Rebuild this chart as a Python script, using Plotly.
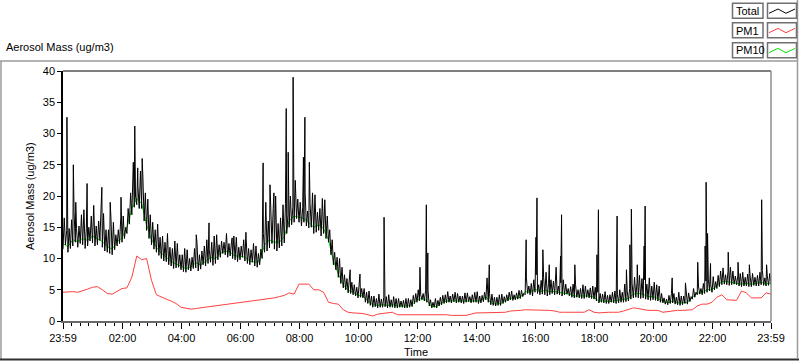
import plotly.graph_objects as go

# ---------------- data (minutes after 23:59) ----------------
# Total: envelope readings. lo_a at 10k, hi_a at 10k+2.5, lo_b at 10k+5, hi_b at 10k+7.5
total_lo_a = [11.5, 11.0, 12.0, 11.8, 12.2, 12.0, 12.5, 12.2, 11.8, 11.0,
              10.6, 12.0, 12.6, 14.0, 17.0, 18.6, 18.0, 14.5, 12.2, 11.0,
              10.0, 9.5, 8.8, 8.5, 8.2, 7.8, 8.0, 8.5, 8.3, 8.8,
              9.4, 9.2, 10.2, 10.6, 10.4, 9.8, 9.8, 9.6, 9.0, 8.8,
              9.0, 11.0, 11.7, 11.5, 11.7, 12.5, 15.0, 15.8, 15.8, 15.8,
              14.9, 14.0, 14.5, 14.0, 12.6, 9.0, 7.0, 5.3, 4.5, 4.2,
              3.7, 3.7, 2.8, 2.2, 2.1, 2.2, 2.1, 2.2, 2.1, 2.2,
              2.1, 2.3, 3.0, 3.4, 3.0, 2.1, 2.1, 2.6, 2.9, 2.9,
              2.9, 2.9, 3.0, 2.9, 3.0, 2.9, 3.4, 2.6, 2.4, 2.5,
              3.0, 3.4, 3.4, 3.6, 4.2, 4.2, 4.6, 4.2, 4.2, 4.2,
              4.2, 4.2, 4.2, 4.0, 3.7, 3.7, 3.6, 3.7, 3.5, 2.9,
              2.9, 2.8, 2.9, 2.9, 3.0, 3.2, 3.7, 3.7, 3.7, 3.4,
              3.4, 3.2, 2.9, 2.6, 2.9, 2.6, 2.6, 2.7, 3.5, 4.2,
              4.2, 4.6, 4.6, 5.2, 5.8, 5.8, 5.8, 5.8, 5.5, 5.6,
              5.5, 5.6, 5.8, 5.6, 5.8]
total_hi_a = [16.5, 14.8, 17.5, 15.2, 17.8, 15.0, 18.5, 16.0, 17.2, 14.6,
              15.8, 14.6, 16.8, 18.0, 22.5, 21.5, 23.0, 19.5, 15.8, 15.5,
              13.6, 14.0, 11.6, 12.4, 10.6, 11.4, 10.2, 12.6, 11.2, 13.0,
              12.6, 13.8, 12.8, 14.0, 12.5, 13.4, 12.0, 13.2, 11.4, 12.0,
              11.5, 19.0, 17.0, 20.0, 16.5, 18.8, 20.0, 22.5, 19.0, 20.5,
              18.8, 20.2, 18.0, 19.4, 14.6, 11.0, 10.0, 7.4, 7.0, 5.8,
              6.0, 5.2, 4.8, 4.0, 4.3, 3.8, 4.2, 3.9, 3.6, 3.3,
              3.6, 4.1, 5.0, 4.4, 4.8, 3.0, 3.3, 4.1, 4.7, 4.3,
              4.4, 4.0, 4.5, 4.2, 4.7, 4.1, 6.9, 4.3, 3.8, 4.3,
              4.2, 4.8, 4.5, 4.9, 6.9, 6.0, 7.4, 6.5, 7.8, 6.6,
              6.9, 6.1, 5.9, 5.5, 5.8, 5.2, 5.6, 5.3, 5.4, 4.4,
              4.7, 4.2, 4.8, 5.0, 5.9, 5.2, 7.0, 7.3, 6.6, 6.9,
              6.2, 5.6, 3.7, 4.1, 4.4, 4.6, 4.0, 4.5, 5.2, 5.6,
              6.0, 6.7, 7.1, 7.3, 8.5, 7.9, 8.0, 7.2, 7.8, 7.5,
              7.6, 7.3, 8.1, 7.2]
total_lo_b = [12.2, 11.6, 12.6, 12.4, 11.6, 12.8, 12.0, 12.9, 11.2, 10.8,
              11.4, 12.4, 13.2, 15.5, 18.2, 18.0, 16.0, 13.2, 11.5, 10.5,
              9.6, 9.0, 8.4, 8.6, 7.9, 8.2, 8.4, 8.0, 9.0, 9.2,
              8.9, 9.8, 10.8, 10.2, 10.0, 9.5, 10.2, 9.2, 9.4, 8.6,
              10.0, 11.2, 12.4, 11.2, 12.0, 14.0, 15.4, 16.4, 15.2, 15.2,
              15.0, 14.2, 13.6, 13.2, 10.6, 8.2, 6.0, 5.0, 4.4, 4.0,
              3.8, 3.0, 2.5, 2.3, 2.2, 2.3, 2.2, 2.1, 2.2, 2.1,
              2.2, 2.8, 3.2, 3.2, 2.4, 2.2, 2.4, 2.8, 3.0, 3.1,
              3.0, 2.8, 3.1, 3.0, 2.8, 3.1, 3.0, 2.5, 2.5, 2.8,
              3.2, 3.3, 3.5, 3.9, 4.4, 4.0, 4.4, 4.3, 4.0, 4.4,
              4.3, 4.0, 4.3, 3.8, 3.8, 3.6, 3.8, 3.6, 3.2, 3.0,
              2.8, 3.0, 2.8, 3.0, 3.1, 3.5, 3.8, 3.6, 3.5, 3.3,
              3.3, 3.0, 2.7, 2.8, 2.7, 2.5, 2.8, 3.1, 3.8, 4.3,
              4.4, 4.8, 5.0, 5.5, 5.9, 5.7, 5.9, 5.6, 5.6, 5.5,
              5.7, 5.6, 5.7, 5.7]
total_hi_b = [14.5, 16.2, 14.8, 17.0, 14.8, 16.8, 15.2, 18.0, 14.6, 16.5,
              13.8, 16.5, 15.0, 20.5, 20.0, 24.0, 20.5, 17.0, 14.6, 13.4,
              12.6, 11.8, 12.8, 10.6, 11.6, 10.0, 11.6, 10.6, 12.0, 11.4,
              13.6, 12.2, 12.6, 12.4, 13.6, 11.8, 13.0, 11.6, 12.4, 10.8,
              14.0, 16.0, 18.0, 15.6, 18.6, 17.0, 18.2, 19.5, 18.2, 17.6,
              20.5, 17.4, 19.6, 16.8, 13.0, 10.2, 8.6, 6.8, 6.2, 5.4,
              5.2, 4.6, 4.0, 3.6, 3.5, 3.9, 3.4, 3.6, 3.2, 3.6,
              3.4, 4.4, 4.2, 4.9, 3.4, 3.6, 3.8, 4.2, 4.0, 4.6,
              4.0, 4.5, 3.9, 4.6, 4.0, 4.6, 4.4, 3.8, 4.2, 3.9,
              4.6, 4.2, 4.9, 4.4, 5.6, 6.6, 5.8, 7.0, 6.0, 6.4,
              5.6, 6.6, 5.2, 5.9, 5.0, 5.8, 5.0, 5.6, 4.6, 4.3,
              4.1, 4.6, 4.3, 4.6, 4.8, 6.0, 6.2, 6.8, 5.9, 5.6,
              5.8, 4.4, 3.5, 4.4, 3.8, 4.0, 4.4, 3.9, 4.6, 5.2,
              6.4, 5.8, 6.3, 8.0, 7.4, 8.6, 7.2, 7.6, 7.0, 7.2,
              7.0, 7.8, 6.9, 7.6]
spike_t = [8, 21, 26, 49, 79, 96, 118, 143, 146, 152, 161, 271, 297, 344, 372,
           407, 421, 429, 454, 458, 468, 489, 492, 501, 584, 604, 653, 726, 739,
           742, 867, 942, 962, 964, 976, 989, 1003, 1012, 1014, 1041, 1086, 1089,
           1127, 1146, 1153, 1156, 1168, 1182, 1184, 1239, 1266, 1291, 1306, 1308,
           1311, 1317, 1353, 1373, 1396, 1421, 1431]
spike_v = [32.6, 25.0, 19.0, 22.0, 21.4, 19.0, 19.8, 25.4, 31.2, 24.5, 26.0, 13.8,
           15.7, 13.3, 14.2, 25.3, 21.8, 20.5, 34.0, 27.0, 39.0, 26.2, 32.6, 25.4,
           8.2, 7.5, 16.6, 8.6, 18.6, 10.9, 9.0, 13.0, 13.4, 19.7, 11.4, 9.0, 8.6,
           10.4, 17.0, 9.0, 10.6, 17.8, 16.8, 8.2, 12.2, 17.9, 9.0, 12.0, 18.4, 6.9,
           6.1, 9.4, 12.0, 22.2, 14.0, 9.2, 11.0, 9.4, 9.0, 19.4, 9.0]
pm10 = [12.4, 11.9, 13.0, 12.7, 13.2, 12.9, 13.6, 13.2, 12.7, 11.9,
        11.5, 12.7, 13.3, 15.0, 18.0, 19.6, 18.8, 15.4, 13.0, 11.8,
        10.8, 10.2, 9.5, 9.1, 8.8, 8.4, 8.6, 9.3, 9.0, 9.5,
        10.2, 10.0, 10.8, 11.2, 11.0, 10.4, 10.4, 10.2, 9.6, 9.4,
        9.6, 12.2, 13.0, 12.6, 12.6, 13.5, 16.0, 16.8, 16.6, 16.4,
        15.8, 15.0, 15.4, 14.8, 13.0, 9.6, 7.5, 5.8, 4.9, 4.6,
        4.1, 4.0, 3.2, 2.6, 2.5, 2.6, 2.5, 2.6, 2.4, 2.4,
        2.4, 2.6, 3.4, 3.6, 3.3, 2.3, 2.3, 2.9, 3.2, 3.2,
        3.2, 3.2, 3.2, 3.2, 3.3, 3.2, 3.9, 2.9, 2.7, 2.8,
        3.3, 3.6, 3.7, 3.8, 4.7, 4.6, 5.1, 4.7, 4.9, 4.7,
        4.7, 4.6, 4.5, 4.3, 4.0, 4.0, 3.9, 4.0, 3.8, 3.2,
        3.2, 3.1, 3.2, 3.3, 3.5, 3.6, 4.3, 4.4, 4.3, 3.9,
        3.9, 3.6, 3.1, 2.9, 3.2, 2.9, 2.9, 3.0, 3.8, 4.5,
        4.5, 5.0, 5.0, 5.6, 6.3, 6.3, 6.2, 6.1, 5.9, 6.0,
        5.9, 6.0, 6.2, 5.9, 6.1]
pm1 = [4.6, 4.7, 4.7, 4.6, 4.8, 5.1, 5.4, 5.5, 5.0, 4.4,
       4.3, 4.8, 5.2, 5.3, 7.0, 10.4, 9.8, 10.0, 6.5, 4.2,
       3.8, 3.5, 3.2, 2.8, 2.2, 2.0, 1.9, 2.0, 2.1, 2.2,
       2.3, 2.5, 2.6, 2.7, 2.8, 2.9, 3.0, 3.1, 3.2, 3.3,
       3.4, 3.5, 3.6, 3.7, 3.9, 4.1, 4.5, 4.3, 5.9, 5.9,
       5.9, 5.0, 5.0, 4.6, 3.0, 2.8, 2.7, 1.8, 1.4, 1.3,
       1.3, 1.2, 1.0, 0.8, 1.1, 1.2, 1.4, 1.4, 1.0, 1.0,
       1.0, 1.0, 1.0, 1.1, 1.1, 1.1, 1.1, 1.1, 1.0, 0.9,
       0.9, 0.9, 0.9, 1.1, 1.3, 1.3, 1.3, 1.3, 1.3, 1.3,
       1.4, 1.6, 1.6, 1.7, 1.8, 1.8, 1.8, 1.8, 1.8, 1.7,
       1.6, 1.4, 1.4, 1.4, 1.4, 1.5, 1.4, 1.8, 1.4, 1.3,
       1.4, 1.4, 1.4, 1.4, 1.6, 1.8, 2.1, 2.0, 1.8, 1.7,
       1.7, 1.7, 1.4, 1.5, 1.7, 1.7, 1.7, 1.7, 1.8, 2.4,
       2.7, 2.7, 3.0, 3.8, 4.2, 3.4, 3.4, 3.3, 4.8, 4.5,
       3.7, 3.7, 3.7, 4.5, 4.3]
tick_labels = ["23:59", "02:00", "04:00", "06:00", "08:00", "10:00", "12:00",
               "14:00", "16:00", "18:00", "20:00", "22:00", "23:59"]
legend_names = ["Total", "PM1", "PM10"]
series_colors = ["#000000", "#ff4040", "#00e600"]

# ---------------- build ----------------
t_10 = list(range(0, 1441, 10))
t_a = [10 * k + 2.5 for k in range(144)]
t_b = [10 * k + 5 for k in range(144)]
t_c = [10 * k + 7.5 for k in range(144)]
pts = sorted(list(zip(t_10, total_lo_a)) + list(zip(t_a, total_hi_a)) +
             list(zip(t_b, total_lo_b)) + list(zip(t_c, total_hi_b)) +
             list(zip(spike_t, spike_v)))
total_t = [p[0] for p in pts]
total_v = [p[1] for p in pts]

fig = go.Figure()
fig.add_trace(go.Scatter(x=t_10, y=pm1, mode="lines", line=dict(color=series_colors[1], width=1), name="PM1"))
fig.add_trace(go.Scatter(x=t_10, y=pm10, mode="lines", line=dict(color=series_colors[2], width=1), name="PM10"))
fig.add_trace(go.Scatter(x=total_t, y=total_v, mode="lines", line=dict(color=series_colors[0], width=1), name="Total"))

L, R, T, B = 63, 29, 71, 40
W, H = 800, 361
PW, PH = W - L - R, H - T - B


def px(x):
    return (x - L) / PW


def py(y):
    return (H - B - y) / PH


major = [0] + [121 + 120 * k for k in range(11)] + [1440]
minor = []
k = -7
while True:
    v = 121 + k * 120 / 7
    if v > 1440:
        break
    if v > 0 and all(abs(v - m) > 1 for m in major):
        minor.append(v)
    k += 1

shapes = []
# plot frame: top black, right gray
shapes.append(dict(type="line", xref="paper", yref="paper", x0=0, x1=1, y0=1, y1=1,
                   line=dict(color="black", width=1)))
shapes.append(dict(type="line", xref="paper", yref="paper", x0=1, x1=1, y0=0, y1=1,
                   line=dict(color="#8c8c8c", width=1.5)))
# outer panel frame
shapes.append(dict(type="line", xref="paper", yref="paper", x0=px(0), x1=px(797), y0=py(61), y1=py(61),
                   line=dict(color="#9a9a9a", width=1.5)))
shapes.append(dict(type="line", xref="paper", yref="paper", x0=px(1), x1=px(1), y0=py(61), y1=py(359),
                   line=dict(color="#9a9a9a", width=1.5)))
shapes.append(dict(type="line", xref="paper", yref="paper", x0=px(0), x1=px(799), y0=py(359.5), y1=py(359.5),
                   line=dict(color="#303030", width=2)))
shapes.append(dict(type="line", xref="paper", yref="paper", x0=px(797.5), x1=px(797.5), y0=py(0), y1=py(359),
                   line=dict(color="#9a9a9a", width=1.5)))

annotations = []
row_top = [3.3, 22.7, 42.7]
for name, col, y0 in zip(legend_names, series_colors, row_top):
    shapes.append(dict(type="rect", xref="paper", yref="paper", x0=px(732.5), x1=px(763), y0=py(y0), y1=py(y0 + 15),
                       line=dict(color="#707070", width=1.5), fillcolor="white"))
    shapes.append(dict(type="rect", xref="paper", yref="paper", x0=px(767.5), x1=px(796.5), y0=py(y0), y1=py(y0 + 15),
                       line=dict(color="#707070", width=1.5), fillcolor="white"))
    path = "M {:.5f},{:.5f} L {:.5f},{:.5f} L {:.5f},{:.5f} L {:.5f},{:.5f}".format(
        px(769), py(y0 + 10), px(778), py(y0 + 5.7), px(786), py(y0 + 10), px(795), py(y0 + 5.7))
    shapes.append(dict(type="path", xref="paper", yref="paper", path=path, line=dict(color=col, width=1)))
    annotations.append(dict(xref="paper", yref="paper", x=px(734), y=py(y0 + 7.8), text=name, showarrow=False,
                            xanchor="left", yanchor="middle", font=dict(size=11)))

annotations.append(dict(xref="paper", yref="paper", x=px(4), y=py(47.5), text="Aerosol Mass (ug/m3)",
                        showarrow=False, xanchor="left", yanchor="middle", font=dict(size=11)))
annotations.append(dict(xref="paper", yref="paper", x=px(30), y=py(196), text="Aerosol Mass (ug/m3)",
                        showarrow=False, textangle=-90, xanchor="center", yanchor="middle", font=dict(size=11)))
annotations.append(dict(xref="paper", yref="paper", x=px(416), y=py(351.5), text="Time",
                        showarrow=False, xanchor="center", yanchor="middle", font=dict(size=11)))

fig.update_layout(
    width=W, height=H, margin=dict(l=L, r=R, t=T, b=B, pad=0),
    plot_bgcolor="white", paper_bgcolor="white", showlegend=False,
    font=dict(family="Liberation Sans, Arial, sans-serif", size=11, color="black"),
    shapes=shapes, annotations=annotations,
    xaxis=dict(range=[0, 1440], tickmode="array", tickvals=major, ticktext=tick_labels,
               ticks="outside", ticklen=6, tickwidth=1, tickcolor="black",
               showgrid=False, zeroline=False, showline=True, linecolor="#6a6a6a", linewidth=1.5,
               tickfont=dict(size=11),
               minor=dict(tickmode="array", tickvals=minor, ticks="outside", ticklen=3,
                          tickcolor="black", tickwidth=1, showgrid=False)),
    yaxis=dict(range=[0, 40], tickmode="linear", tick0=0, dtick=5,
               ticks="outside", ticklen=4, tickwidth=1, tickcolor="black",
               showgrid=False, zeroline=False, showline=True, linecolor="black", linewidth=1.5,
               tickfont=dict(size=11)),
)

fig.write_html("out.html", config={"displayModeBar": False},
               post_script="document.body.style.margin='0';")
